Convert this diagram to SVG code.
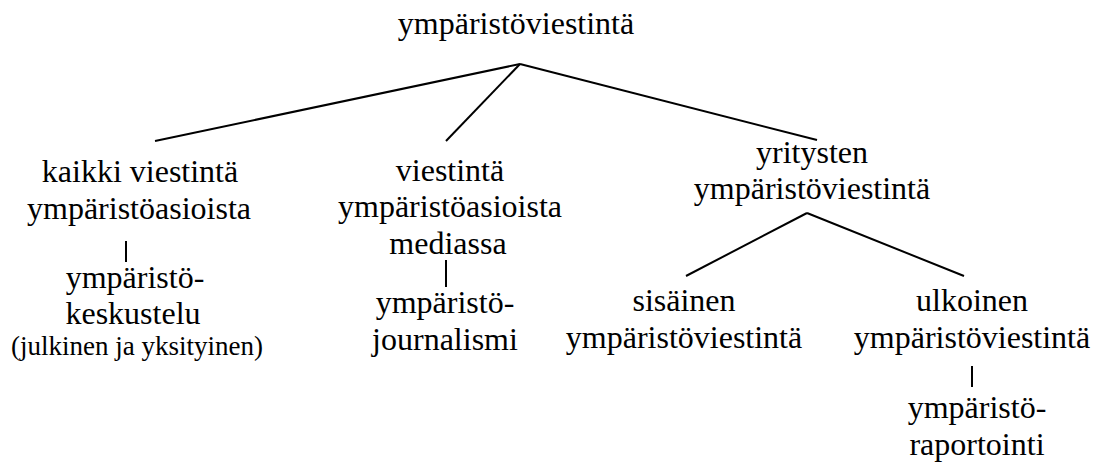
<svg xmlns="http://www.w3.org/2000/svg" width="1095" height="467" viewBox="0 0 1095 467">
<style>
line{stroke:#000;stroke-width:2}
</style>
<rect width="1095" height="467" fill="#fff"/>
<g id="connectors">
<line x1="520" y1="64" x2="155" y2="141"/>
<line x1="520" y1="64" x2="446" y2="141"/>
<line x1="520" y1="64" x2="817" y2="140"/>
<line x1="126" y1="241" x2="126" y2="262"/>
<line x1="446" y1="260" x2="446" y2="287"/>
<line x1="807" y1="213" x2="686" y2="276"/>
<line x1="807" y1="213" x2="964" y2="276"/>
<line x1="972" y1="366" x2="972" y2="387"/>
</g>
<g font-family="'Liberation Serif', 'Times New Roman', 'DejaVu Serif', serif" font-size="32" text-anchor="middle" fill="#000">
<g id="root"><text x="516" y="34">ympäristöviestintä</text></g>
<g id="kaikki"><text x="140" y="182">kaikki viestintä</text><text x="139" y="219">ympäristöasioista</text></g>
<g id="keskustelu"><text x="135" y="288">ympäristö-</text><text x="133" y="324">keskustelu</text><text font-size="27" x="137" y="355">(julkinen ja yksityinen)</text></g>
<g id="mediassa"><text x="450" y="181">viestintä</text><text x="450" y="217">ympäristöasioista</text><text x="448" y="254">mediassa</text></g>
<g id="journalismi"><text x="445" y="313">ympäristö-</text><text x="445" y="350">journalismi</text></g>
<g id="yritysten"><text x="812" y="163">yritysten</text><text x="812" y="199">ympäristöviestintä</text></g>
<g id="sisainen"><text x="684" y="311">sisäinen</text><text x="684" y="348">ympäristöviestintä</text></g>
<g id="ulkoinen"><text x="972" y="311">ulkoinen</text><text x="972" y="348">ympäristöviestintä</text></g>
<g id="raportointi"><text x="977" y="418">ympäristö-</text><text x="977" y="455">raportointi</text></g>
</g>
</svg>
